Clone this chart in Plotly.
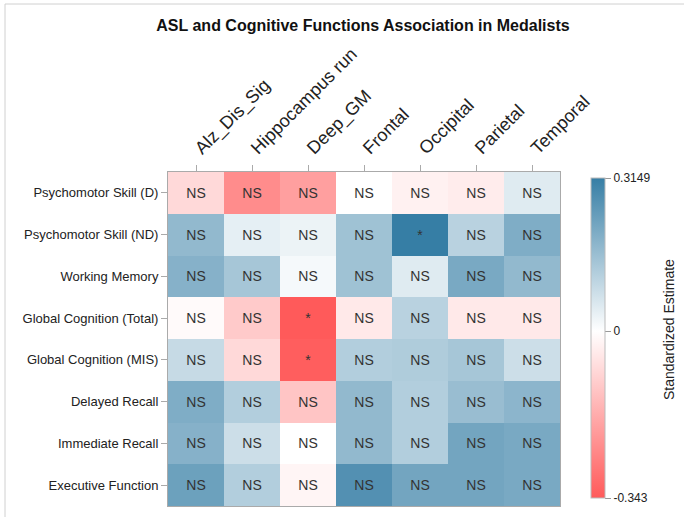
import plotly.graph_objects as go

columns = ["Alz_Dis_Sig", "Hippocampus run", "Deep_GM", "Frontal", "Occipital", "Parietal", "Temporal"]
rows = ["Psychomotor Skill (D)", "Psychomotor Skill (ND)", "Working Memory",
        "Global Cognition (Total)", "Global Cognition (MIS)", "Delayed Recall",
        "Immediate Recall", "Executive Function"]

values = [
    [-0.08, -0.24, -0.20, 0.00, -0.03, -0.04, 0.05],
    [0.17, 0.04, 0.03, 0.15, 0.3149, 0.11, 0.20],
    [0.19, 0.14, 0.015, 0.15, 0.05, 0.21, 0.17],
    [-0.01, -0.11, -0.343, -0.045, 0.11, -0.045, -0.045],
    [0.09, -0.08, -0.335, 0.12, 0.125, 0.14, 0.08],
    [0.20, 0.12, -0.12, 0.17, 0.12, 0.16, 0.18],
    [0.19, 0.08, 0.00, 0.17, 0.12, 0.22, 0.21],
    [0.23, 0.12, -0.02, 0.27, 0.22, 0.22, 0.21],
]

labels = [
    ["NS", "NS", "NS", "NS", "NS", "NS", "NS"],
    ["NS", "NS", "NS", "NS", "*", "NS", "NS"],
    ["NS", "NS", "NS", "NS", "NS", "NS", "NS"],
    ["NS", "NS", "*", "NS", "NS", "NS", "NS"],
    ["NS", "NS", "*", "NS", "NS", "NS", "NS"],
    ["NS", "NS", "NS", "NS", "NS", "NS", "NS"],
    ["NS", "NS", "NS", "NS", "NS", "NS", "NS"],
    ["NS", "NS", "NS", "NS", "NS", "NS", "NS"],
]

zmin, zmax = -0.343, 0.3149
cbar_ticks = [-0.343, 0, 0.3149]
cbar_text = ["-0.343", "0", "0.3149"]

FONT = "Liberation Sans, Arial, sans-serif"
mid = (0 - zmin) / (zmax - zmin)
colorscale = [[0.0, "rgb(255,90,90)"], [mid, "rgb(255,255,255)"], [1.0, "rgb(54,126,165)"]]

W, H = 684, 517
L, R, T, B = 168, 124, 172, 11
pw, ph = W - L - R, H - T - B

fig = go.Figure(go.Heatmap(
    z=values, x=columns, y=rows, text=labels, texttemplate="%{text}",
    textfont=dict(family=FONT, size=14, color="#333333"),
    colorscale=colorscale, zmin=zmin, zmax=zmax,
    colorbar=dict(
        x=(591 - L) / pw, xanchor="left", xpad=0, ypad=0,
        y=(H - B - 338) / ph, yanchor="middle",
        len=320 / ph, lenmode="fraction", thickness=14,
        outlinewidth=1, outlinecolor="#bbbbbb",
        tickvals=cbar_ticks, ticktext=cbar_text, ticks="outside", ticklen=6,
        tickcolor="#999999", tickfont=dict(family=FONT, size=12, color="#222222"),
    ),
))

fig.update_layout(
    width=W, height=H, margin=dict(l=L, r=R, t=T, b=B, autoexpand=False),
    paper_bgcolor="white", plot_bgcolor="white",
    title=dict(text="<b>ASL and Cognitive Functions Association in Medalists</b>",
               x=363 / W, xanchor="center", y=1 - 25 / H, yanchor="middle",
               font=dict(family=FONT, size=16, color="#111111")),
    xaxis=dict(side="top", tickangle=-45, ticks="outside", ticklen=6, tickcolor="#aaaaaa",
               showline=True, linecolor="#aaaaaa", mirror=True, showgrid=False, automargin=False,
               tickfont=dict(family=FONT, size=18, color="#222222")),
    yaxis=dict(autorange="reversed", ticks="outside", ticklen=6, tickcolor="#aaaaaa",
               showline=True, linecolor="#aaaaaa", mirror=True, showgrid=False, automargin=False,
               tickfont=dict(family=FONT, size=13, color="#222222")),
    annotations=[dict(text="Standardized Estimate", textangle=-90, showarrow=False,
                      xref="paper", yref="paper", x=(669 - L) / pw, y=(H - B - 330) / ph,
                      xanchor="center", yanchor="middle",
                      font=dict(family=FONT, size=14, color="#222222"))],
    shapes=[
        dict(type="line", xref="paper", yref="paper",
             x0=(5 - L) / pw, x1=(5 - L) / pw, y0=(H - B - 4) / ph, y1=(H - B - H) / ph,
             line=dict(color="#d0d0d0", width=1)),
        dict(type="line", xref="paper", yref="paper",
             x0=(5 - L) / pw, x1=(W - L) / pw, y0=(H - B - 4) / ph, y1=(H - B - 4) / ph,
             line=dict(color="#d0d0d0", width=1)),
    ],
)

fig.write_html("out.html", config={"displayModeBar": False},
               post_script="document.body.style.margin='0';document.body.style.padding='0';")
